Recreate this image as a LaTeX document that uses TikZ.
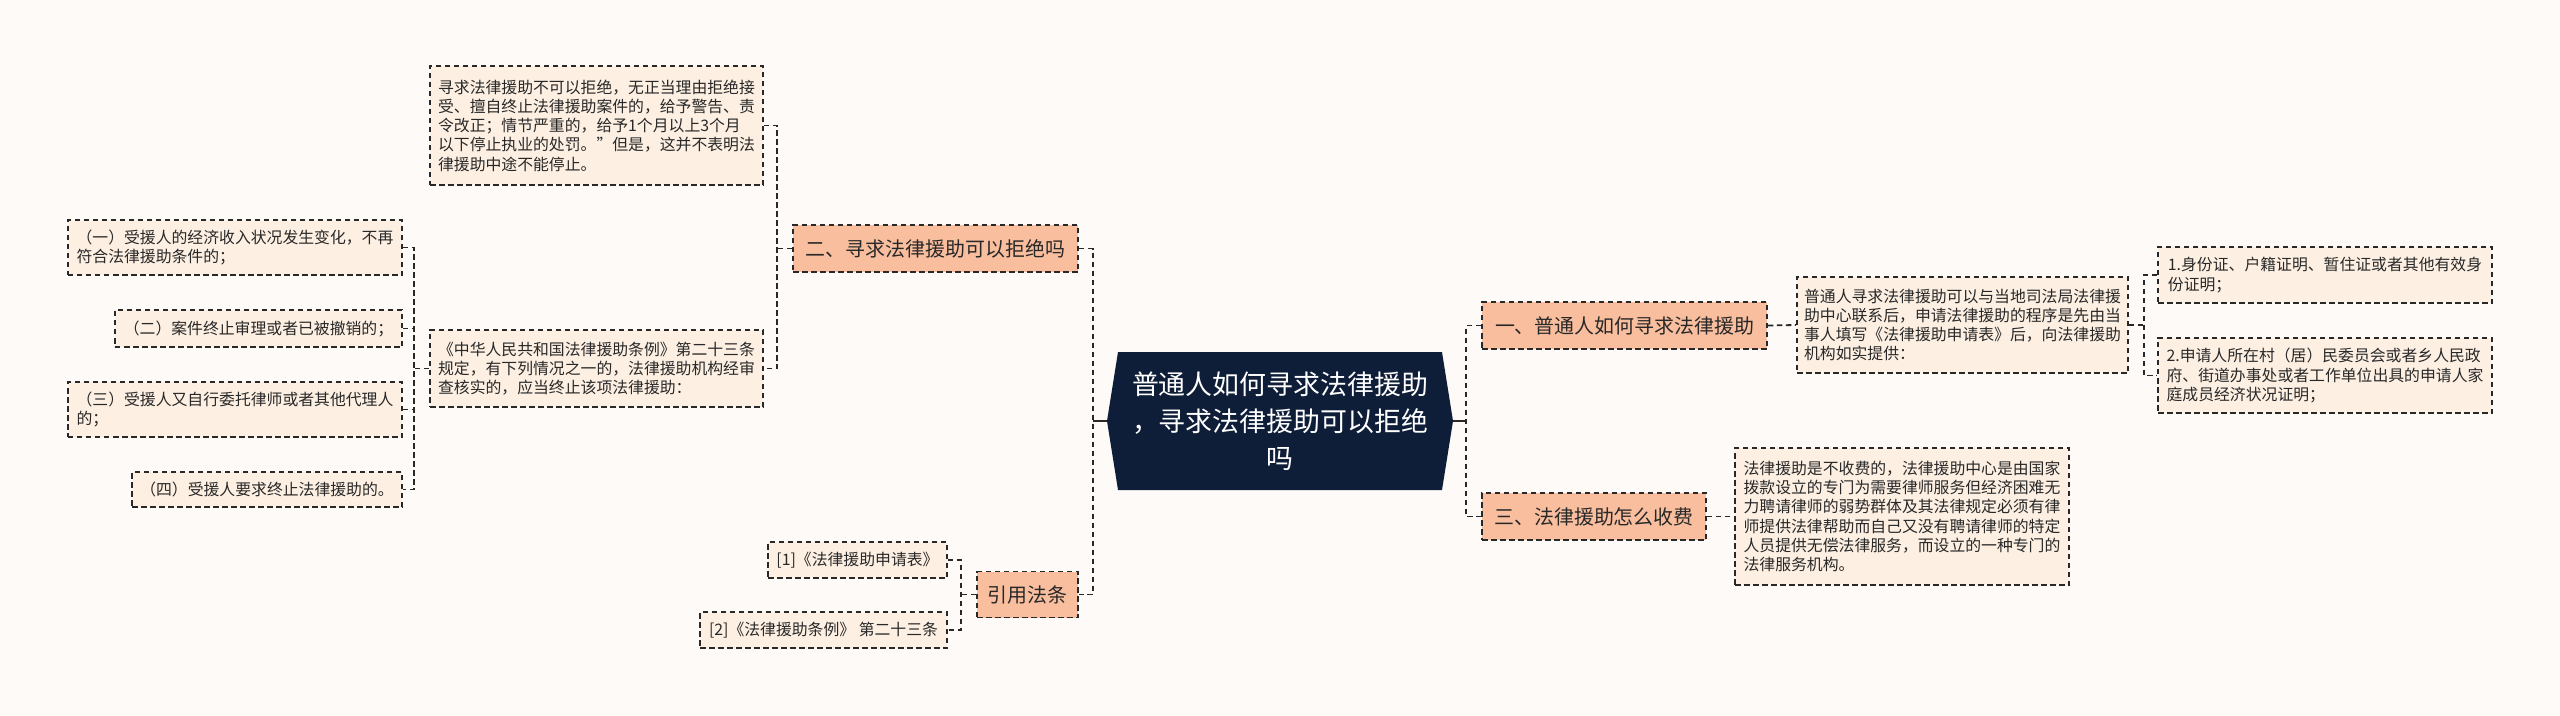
\documentclass[tikz,border=0pt]{standalone}
\usepackage{fontspec}
\setmainfont{Noto Sans CJK SC}
\usetikzlibrary{calc}
\definecolor{bg}{RGB}{253,250,248}
\definecolor{navy}{RGB}{15,30,56}
\definecolor{salmon}{RGB}{249,190,158}
\definecolor{cream}{RGB}{253,240,227}
\definecolor{ink}{RGB}{40,40,40}
\begin{document}
\begin{tikzpicture}[x=1bp,y=-1bp,
  box/.style={draw=ink, line width=1.8bp, dash pattern=on 5.5bp off 3.5bp, inner sep=0pt, text=ink},
  lbox/.style={box, fill=cream, font=\fontsize{15.9}{19.3}\selectfont, align=left},
  hbox/.style={box, fill=salmon, font=\fontsize{20}{24}\selectfont},
  conn/.style={draw=ink, line width=1.8bp, dash pattern=on 5.5bp off 3.5bp},
  solidconn/.style={draw=ink, line width=2bp}]
\fill[bg] (0,0) rectangle (2560,716);
\useasboundingbox (0,0) rectangle (2560,716);

% central node
\fill[navy] (1118,352) -- (1442,352) -- (1453,421) -- (1442,490) -- (1118,490) -- (1107,421) -- cycle;
\node[text=white, font=\fontsize{27}{37}\selectfont, align=center, inner sep=0pt,
      minimum width=324bp, minimum height=138bp] (n0) at (1280,421)
      {普通人如何寻求法律援助\\，寻求法律援助可以拒绝\\吗};
\coordinate (n0L) at ($(n0.west)+(-11,0)$);
\coordinate (n0R) at ($(n0.east)+(11,0)$);

% left branch
\node[hbox, minimum width=285bp, minimum height=47bp] (n2) at (935.5,248.5) {二、寻求法律援助可以拒绝吗};
\node[lbox, minimum width=333bp, minimum height=119bp] (T1) at (596.5,125.5)
  {寻求法律援助不可以拒绝，无正当理由拒绝接\\受、擅自终止法律援助案件的，给予警告、责\\令改正；情节严重的，给予1个月以上3个月\\以下停止执业的处罚。”但是，这并不表明法\\律援助中途不能停止。};
\node[lbox, minimum width=333bp, minimum height=77bp] (T2) at (596.5,368.5)
  {《中华人民共和国法律援助条例》第二十三条\\规定，有下列情况之一的，法律援助机构经审\\查核实的，应当终止该项法律援助：};
\node[lbox, minimum width=334bp, minimum height=55bp] (A1) at (235,247.5)
  {（一）受援人的经济收入状况发生变化，不再\\符合法律援助条件的；};
\node[lbox, minimum width=287bp, minimum height=37bp] (A2) at (258.5,328.5)
  {（二）案件终止审理或者已被撤销的；};
\node[lbox, minimum width=334bp, minimum height=55bp] (A3) at (235,409.5)
  {（三）受援人又自行委托律师或者其他代理人\\的；};
\node[lbox, minimum width=270bp, minimum height=35bp] (A4) at (267,489.5)
  {（四）受援人要求终止法律援助的。};
\node[hbox, minimum width=101bp, minimum height=46bp] (Y) at (1027.5,594.5) {引用法条};
\node[lbox, minimum width=179bp, minimum height=36bp] (R1) at (857.5,560) {[1]《法律援助申请表》};
\node[lbox, minimum width=247bp, minimum height=36bp] (R2) at (823.5,630) {[2]《法律援助条例》 第二十三条};

% right branch
\node[hbox, minimum width=285bp, minimum height=47bp] (B1) at (1624.5,325.5) {一、普通人如何寻求法律援助};
\node[lbox, minimum width=331bp, minimum height=96bp] (B1t) at (1962.5,325)
  {普通人寻求法律援助可以与当地司法局法律援\\助中心联系后，申请法律援助的程序是先由当\\事人填写《法律援助申请表》后，向法律援助\\机构如实提供：};
\node[lbox, minimum width=334bp, minimum height=56bp] (B1a) at (2325,275)
  {1.身份证、户籍证明、暂住证或者其他有效身\\份证明；};
\node[lbox, minimum width=334bp, minimum height=75bp] (B1b) at (2325,375.5)
  {2.申请人所在村（居）民委员会或者乡人民政\\府、街道办事处或者工作单位出具的申请人家\\庭成员经济状况证明；};
\node[hbox, minimum width=224bp, minimum height=47bp] (B3) at (1594,516.5) {三、法律援助怎么收费};
\node[lbox, minimum width=334bp, minimum height=137bp] (B3t) at (1902,516.5)
  {法律援助是不收费的，法律援助中心是由国家\\拨款设立的专门为需要律师服务但经济困难无\\力聘请律师的弱势群体及其法律规定必须有律\\师提供法律帮助而自己又没有聘请律师的特定\\人员提供无偿法律服务，而设立的一种专门的\\法律服务机构。};

% connectors: left
\coordinate (sL) at ($(n0L)+(-14,0)$);
\draw[solidconn] (n0L) -- (sL);
\draw[conn] (n2.east) -- (n2.east -| sL) -- (Y.east -| sL) -- (Y.east);

\coordinate (s2) at ($(n2.west)+(-15,0)$);
\draw[conn] (n2.west) -- (s2);
\draw[conn] (T1.east) -- (T1.east -| s2) -- (T2.east -| s2) -- (T2.east);

\coordinate (s3) at ($(T2.west)+(-15,0)$);
\draw[conn] (T2.west) -- (s3);
\draw[conn] (A1.east) -- (A1.east -| s3) -- (A4.east -| s3) -- (A4.east);
\draw[conn] (A2.east) -- (A2.east -| s3);
\draw[conn] (A3.east) -- (A3.east -| s3);

\coordinate (s4) at ($(Y.west)+(-15,0)$);
\draw[conn] (Y.west) -- (s4);
\draw[conn] (R1.east) -- (R1.east -| s4) -- (R2.east -| s4) -- (R2.east);

% connectors: right
\coordinate (sR) at ($(n0R)+(13,0)$);
\draw[solidconn] (n0R) -- (sR);
\draw[conn] (B1.west) -- (B1.west -| sR) -- (B3.west -| sR) -- (B3.west);
\draw[conn] (B1.east) -- (B1t.west);
\draw[conn] (B3.east) -- (B3t.west);

\coordinate (s5) at ($(B1t.east)+(15,0)$);
\draw[conn] (B1t.east) -- (s5);
\draw[conn] (B1a.west) -- (B1a.west -| s5) -- (B1b.west -| s5) -- (B1b.west);
\end{tikzpicture}
\end{document}
